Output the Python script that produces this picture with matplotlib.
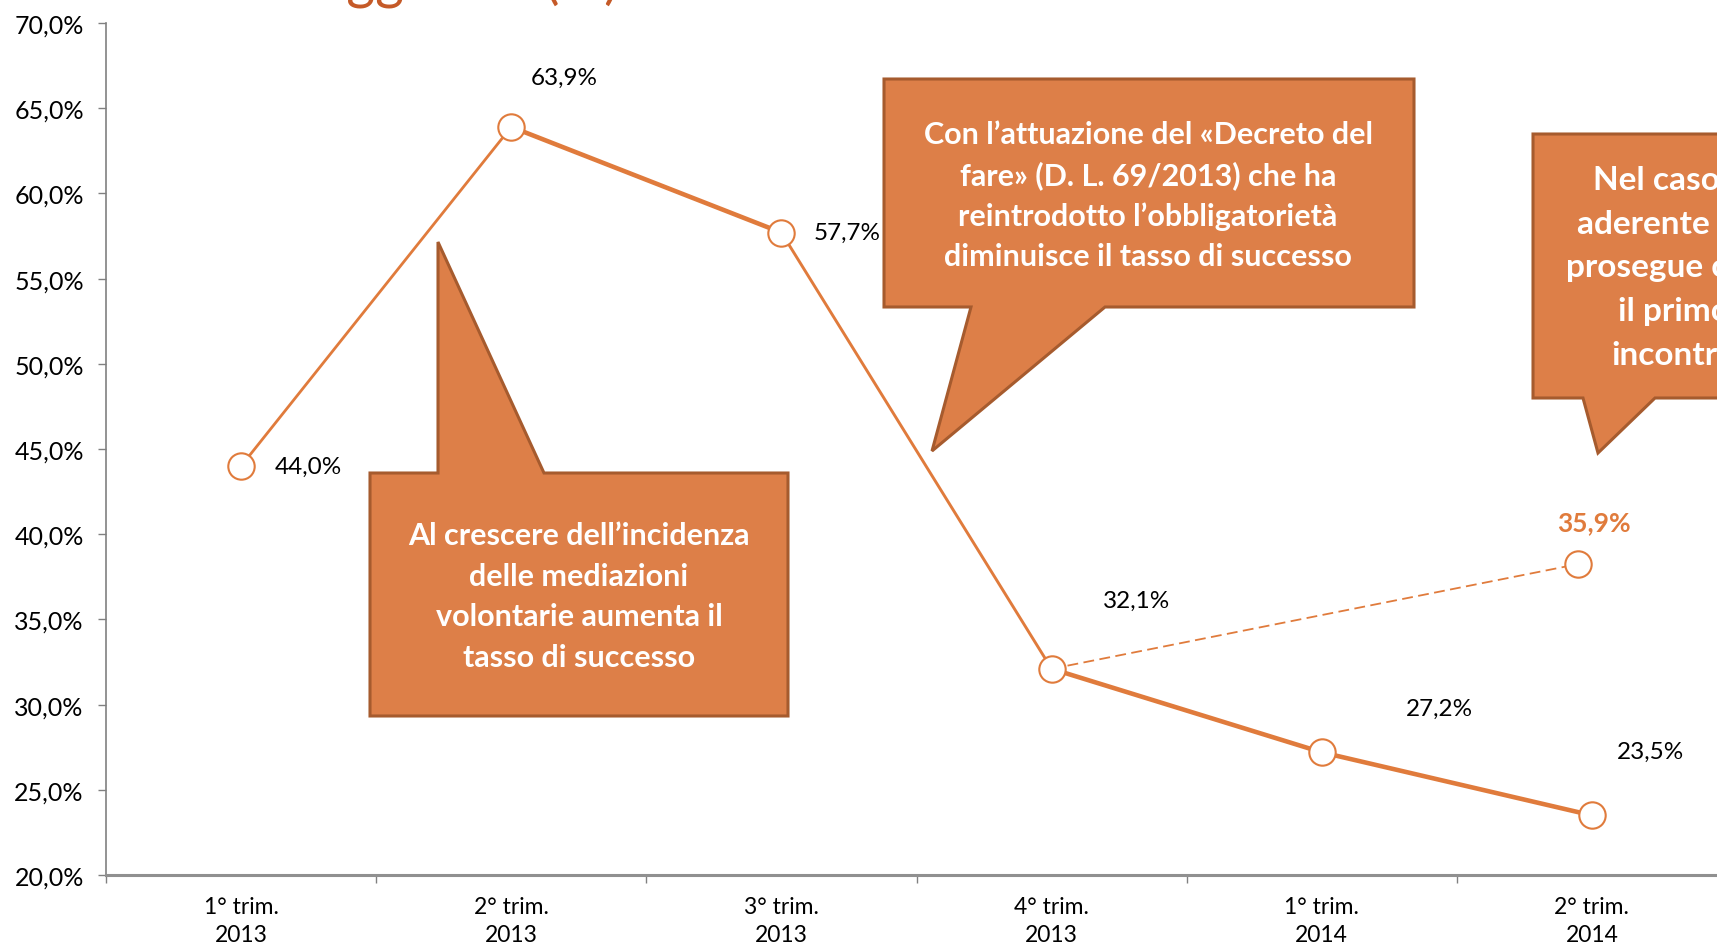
import matplotlib.pyplot as plt
from matplotlib.patches import Polygon
from matplotlib.ticker import FuncFormatter, MultipleLocator

# data
categories = ["1° trim.\n2013", "2° trim.\n2013", "3° trim.\n2013",
              "4° trim.\n2013", "1° trim.\n2014", "2° trim.\n2014"]
tasso = [44.0, 63.9, 57.7, 32.1, 27.2, 23.5]
# aderenti che proseguono oltre il primo incontro (punto disegnato a mano nell'originale)
prosegue_x = [3, 4.95]
prosegue_y = [32.1, 38.25]
prosegue_label = "35,9%"

ORANGE = "#E07B3C"
BOX = "#DD7F48"
BOX_EDGE = "#A65B2E"
TITLE = "#C55A28"

plt.rcParams['font.family'] = ['Lato', 'DejaVu Sans']

fig = plt.figure(figsize=(17.17, 9.45), dpi=100)
ax = fig.add_axes([106 / 1717, 1 - 876 / 945, (1727 - 106) / 1717, (876 - 24) / 945])

x = list(range(len(tasso)))
seg_widths = [2.0, 3.3, 2.1, 3.3, 3.3]
for i in range(len(tasso) - 1):
    ax.plot(x[i:i + 2], tasso[i:i + 2], color=ORANGE, lw=seg_widths[i],
            solid_capstyle='round', zorder=2)
ax.plot(prosegue_x, prosegue_y, color=ORANGE, lw=1.3, dashes=(6, 3), zorder=2)
ax.plot(x, tasso, 'o', ms=19, mfc='white', mec=ORANGE, mew=1.5, zorder=3)
ax.plot(prosegue_x[1:], prosegue_y[1:], 'o', ms=19, mfc='white', mec=ORANGE, mew=1.5, zorder=3)

# etichette dei valori
offsets = [(67, 0), (53, 50), (66, 0), (85, 68), (118, 44), (59, 64)]
for xi, v, off in zip(x, tasso, offsets):
    ax.annotate(f"{v:.1f}%".replace('.', ','), (xi, v), xytext=off,
                textcoords='offset pixels', ha='center', va='center',
                fontsize=17.5, color='black', zorder=4)
ax.annotate(prosegue_label, (prosegue_x[1], prosegue_y[1]), xytext=(15, 42),
            textcoords='offset pixels', ha='center', va='center',
            fontsize=19, fontweight='bold', color=ORANGE, zorder=4)

ax.set_xlim(-0.5, 5.5)
ax.set_ylim(20, 70)
ax.yaxis.set_major_locator(MultipleLocator(5))
ax.yaxis.set_major_formatter(FuncFormatter(lambda v, p: f"{v:.1f}%".replace('.', ',')))
ax.set_xticks(x)
ax.set_xticklabels(categories, fontsize=16.5, linespacing=1.4)
ax.set_xticks([i - 0.5 for i in range(7)], minor=True)
ax.tick_params(axis='x', which='major', length=0, pad=15)
ax.tick_params(axis='x', which='minor', length=6, color='#808080', width=1)
ax.tick_params(axis='y', length=6, color='#808080', width=1, pad=10, labelsize=18)

for s in ['top', 'right']:
    ax.spines[s].set_visible(False)
ax.spines['left'].set_color('#808080')
ax.spines['left'].set_linewidth(1.2)
ax.spines['bottom'].set_color('#909090')
ax.spines['bottom'].set_linewidth(2.2)

# titolo tagliato in alto
fig.text(619 / 1717, 1 + 1.5 / 945, "accordo raggiunto (%)", ha='right', va='baseline',
         fontsize=40, color=TITLE)

# fumetti
ov = fig.add_axes([0, 0, 1, 1], zorder=5)
ov.set_xlim(0, 1717)
ov.set_ylim(945, 0)
ov.axis('off')
ov.patch.set_alpha(0)

callouts = [
    [(370, 474), (438, 474), (438, 243), (544, 474), (788, 474), (788, 717), (370, 717)],
    [(884, 80), (1414, 80), (1414, 308), (1105, 308), (932, 452), (971, 308), (884, 308)],
    [(1533, 135), (1813, 135), (1813, 399), (1655, 399), (1598, 454), (1583, 399), (1533, 399)],
]
for pts in callouts:
    ov.add_patch(Polygon(pts, closed=True, facecolor=BOX, edgecolor=BOX_EDGE,
                         lw=2.2, joinstyle='miter'))

ov.text(579, 597, "Al crescere dell’incidenza\ndelle mediazioni\nvolontarie aumenta il\ntasso di successo",
        ha='center', va='center', color='white', fontsize=22, fontweight='bold', linespacing=1.55)
ov.text(1148, 196, "Con l’attuazione del «Decreto del\nfare» (D. L. 69/2013) che ha\nreintrodotto l’obbligatorietà\ndiminuisce il tasso di successo",
        ha='center', va='center', color='white', fontsize=22, fontweight='bold', linespacing=1.52)
ov.text(1674, 268, "Nel caso di\naderente che\nprosegue oltre\nil primo\nincontro",
        ha='center', va='center', color='white', fontsize=24, fontweight='bold', linespacing=1.62)

fig.savefig("out.png", dpi=100)
